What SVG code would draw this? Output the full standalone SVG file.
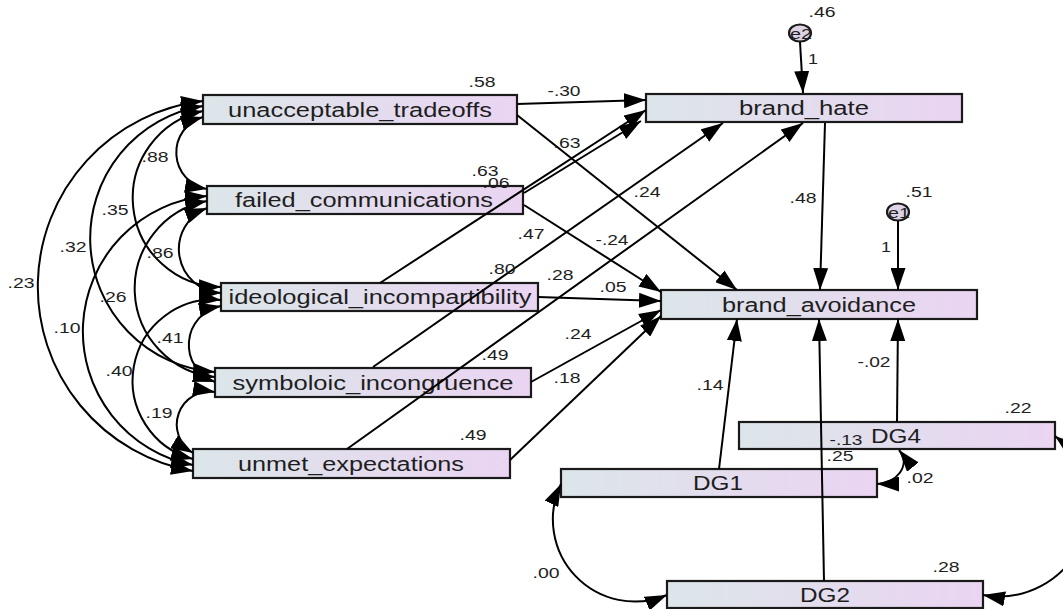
<svg xmlns="http://www.w3.org/2000/svg" width="1063" height="609" viewBox="0 0 1063 609">
  <defs>
    <linearGradient id="boxFill" x1="0" y1="0" x2="1" y2="0">
      <stop offset="0" stop-color="#dce6e9"/>
      <stop offset="1" stop-color="#ead4f2"/>
    </linearGradient>
    <marker id="ah" viewBox="0 0 22 15" refX="22" refY="7.5" markerWidth="22" markerHeight="15" markerUnits="userSpaceOnUse" orient="auto-start-reverse">
      <path d="M0,0 L22,7.5 L0,15 z" fill="#000"/>
    </marker>
    <style>
      .node rect { fill: url(#boxFill); stroke: #1a1a1a; stroke-width: 2.2; }
      .node ellipse { fill: #ddd3e4; stroke: #1a1a1a; stroke-width: 2.2; }
      .name { font-family: "Liberation Sans", Arial, sans-serif; font-size: 19.5px; fill: #1e1e1e; text-anchor: middle; }
      .err { font-family: "Liberation Sans", Arial, sans-serif; font-size: 15px; fill: #1e1e1e; text-anchor: middle; }
      .num { font-family: "Liberation Sans", Arial, sans-serif; font-size: 15.5px; fill: #1e1e1e; text-anchor: middle; }
      .path { fill: none; stroke: #000; stroke-width: 2; marker-end: url(#ah); }
      .cov { fill: none; stroke: #000; stroke-width: 2; marker-start: url(#ah); marker-end: url(#ah); }
    </style>
  </defs>

  <rect width="1063" height="609" fill="#fff"/>

  <!-- observed variables -->
  <g id="unacceptable_tradeoffs" class="node">
    <rect x="203" y="95" width="314" height="29"/>
    <text class="name" x="360" y="116.5" textLength="264" lengthAdjust="spacingAndGlyphs">unacceptable_tradeoffs</text>
  </g>
  <g id="failed_communications" class="node">
    <rect x="207" y="186" width="316" height="28"/>
    <text class="name" x="364" y="207" textLength="258" lengthAdjust="spacingAndGlyphs">failed_communications</text>
  </g>
  <g id="ideological_incompartibility" class="node">
    <rect x="221" y="283" width="317" height="28"/>
    <text class="name" x="380" y="304" textLength="303" lengthAdjust="spacingAndGlyphs">ideological_incompartibility</text>
  </g>
  <g id="symboloic_incongruence" class="node">
    <rect x="215" y="368" width="316" height="29"/>
    <text class="name" x="373" y="389.5" textLength="281" lengthAdjust="spacingAndGlyphs">symboloic_incongruence</text>
  </g>
  <g id="unmet_expectations" class="node">
    <rect x="193" y="449" width="317" height="29"/>
    <text class="name" x="351" y="470.5" textLength="226" lengthAdjust="spacingAndGlyphs">unmet_expectations</text>
  </g>
  <g id="brand_hate" class="node">
    <rect x="646" y="94" width="316" height="28"/>
    <text class="name" x="804" y="115" textLength="130" lengthAdjust="spacingAndGlyphs">brand_hate</text>
  </g>
  <g id="brand_avoidance" class="node">
    <rect x="661" y="290" width="316" height="29"/>
    <text class="name" x="819" y="311.5" textLength="194" lengthAdjust="spacingAndGlyphs">brand_avoidance</text>
  </g>
  <g id="DG4" class="node">
    <rect x="739" y="422" width="316" height="27"/>
    <text class="name" x="896" y="442.5" textLength="50" lengthAdjust="spacingAndGlyphs">DG4</text>
  </g>
  <g id="DG1" class="node">
    <rect x="561" y="469" width="316" height="28"/>
    <text class="name" x="718" y="490" textLength="50" lengthAdjust="spacingAndGlyphs">DG1</text>
  </g>
  <g id="DG2" class="node">
    <rect x="667" y="581" width="316" height="27"/>
    <text class="name" x="825" y="601.5" textLength="50" lengthAdjust="spacingAndGlyphs">DG2</text>
  </g>

  <!-- error terms -->
  <g id="e2" class="node">
    <ellipse cx="800" cy="33" rx="11" ry="8.5"/>
    <text class="err" x="801" y="38.5" textLength="22" lengthAdjust="spacingAndGlyphs">e2</text>
  </g>
  <g id="e1" class="node">
    <ellipse cx="898" cy="212" rx="11" ry="8.5"/>
    <text class="err" x="899" y="217.5" textLength="22" lengthAdjust="spacingAndGlyphs">e1</text>
  </g>

  <!-- regression paths and covariances -->
  <g id="connectors">
    <path class="path" d="M517,104 L646,100"/>
    <path class="path" d="M524,193 L641,121"/>
    <path class="path" d="M380,283 L646,110"/>
    <path class="path" d="M373,367 L723,123"/>
    <path class="path" d="M347,449 L803,123"/>
    <path class="path" d="M800,42 L803,93"/>
    <path class="path" d="M517,115 L737,290"/>
    <path class="path" d="M524,205 L661,292"/>
    <path class="path" d="M538,297 L661,301"/>
    <path class="path" d="M531,382 L661,310"/>
    <path class="path" d="M510,460 L661,316"/>
    <path class="path" d="M825,123 L820,290"/>
    <path class="path" d="M898,221 L898,290"/>
    <path class="path" d="M719,469 L737,319"/>
    <path class="path" d="M824,581 L819,319"/>
    <path class="path" d="M897,422 L898,319"/>

    <path class="cov" d="M203,117 A37,37 0 0 0 207,189"/>
    <path class="cov" d="M203,111 A89,89 0 0 0 221,287"/>
    <path class="cov" d="M203,106 A134,134 0 0 0 215,372"/>
    <path class="cov" d="M203,101 A187,187 0 0 0 193,471"/>
    <path class="cov" d="M207,208 A44,44 0 0 0 221,293"/>
    <path class="cov" d="M207,201 A89,89 0 0 0 215,377"/>
    <path class="cov" d="M207,196 A136,136 0 0 0 193,465"/>
    <path class="cov" d="M221,306 A39.5,39.5 0 0 0 215,382"/>
    <path class="cov" d="M221,300 A81,81 0 0 0 193,459"/>
    <path class="cov" d="M215,392 A33,33 0 0 0 193,453"/>

    <path class="cov" d="M561,484 A82,82 0 0 0 667,595"/>
    <path class="cov" d="M1055,436 A90,90 0 0 1 983,595"/>
    <path class="cov" d="M877,484 C895,484 912,466 899,450"/>
  </g>

  <!-- estimates -->
  <g id="estimates">
    <text class="num" x="822" y="17" textLength="27" lengthAdjust="spacingAndGlyphs">.46</text>
    <text class="num" x="813" y="64" textLength="10" lengthAdjust="spacingAndGlyphs">1</text>
    <text class="num" x="482" y="87" textLength="27" lengthAdjust="spacingAndGlyphs">.58</text>
    <text class="num" x="564" y="96" textLength="33" lengthAdjust="spacingAndGlyphs">-.30</text>
    <text class="num" x="567" y="148" textLength="27" lengthAdjust="spacingAndGlyphs">.63</text>
    <text class="num" x="485" y="176" textLength="27" lengthAdjust="spacingAndGlyphs">.63</text>
    <text class="num" x="496" y="188" textLength="27" lengthAdjust="spacingAndGlyphs">.06</text>
    <text class="num" x="647" y="197" textLength="27" lengthAdjust="spacingAndGlyphs">.24</text>
    <text class="num" x="531" y="239" textLength="27" lengthAdjust="spacingAndGlyphs">.47</text>
    <text class="num" x="612" y="245" textLength="33" lengthAdjust="spacingAndGlyphs">-.24</text>
    <text class="num" x="502" y="274" textLength="27" lengthAdjust="spacingAndGlyphs">.80</text>
    <text class="num" x="560" y="280" textLength="27" lengthAdjust="spacingAndGlyphs">.28</text>
    <text class="num" x="613" y="292" textLength="27" lengthAdjust="spacingAndGlyphs">.05</text>
    <text class="num" x="578" y="339" textLength="27" lengthAdjust="spacingAndGlyphs">.24</text>
    <text class="num" x="495" y="360" textLength="27" lengthAdjust="spacingAndGlyphs">.49</text>
    <text class="num" x="567" y="383" textLength="27" lengthAdjust="spacingAndGlyphs">.18</text>
    <text class="num" x="473" y="440" textLength="27" lengthAdjust="spacingAndGlyphs">.49</text>
    <text class="num" x="803" y="203" textLength="27" lengthAdjust="spacingAndGlyphs">.48</text>
    <text class="num" x="919" y="197" textLength="27" lengthAdjust="spacingAndGlyphs">.51</text>
    <text class="num" x="886" y="252" textLength="10" lengthAdjust="spacingAndGlyphs">1</text>
    <text class="num" x="710" y="390" textLength="27" lengthAdjust="spacingAndGlyphs">.14</text>
    <text class="num" x="874" y="367" textLength="33" lengthAdjust="spacingAndGlyphs">-.02</text>
    <text class="num" x="1018" y="413" textLength="27" lengthAdjust="spacingAndGlyphs">.22</text>
    <text class="num" x="846" y="445" textLength="33" lengthAdjust="spacingAndGlyphs">-.13</text>
    <text class="num" x="840" y="461" textLength="27" lengthAdjust="spacingAndGlyphs">.25</text>
    <text class="num" x="920" y="483" textLength="27" lengthAdjust="spacingAndGlyphs">.02</text>
    <text class="num" x="546" y="578" textLength="27" lengthAdjust="spacingAndGlyphs">.00</text>
    <text class="num" x="946" y="572" textLength="27" lengthAdjust="spacingAndGlyphs">.28</text>
    <text class="num" x="155" y="162" textLength="27" lengthAdjust="spacingAndGlyphs">.88</text>
    <text class="num" x="115" y="215" textLength="27" lengthAdjust="spacingAndGlyphs">.35</text>
    <text class="num" x="73" y="252" textLength="27" lengthAdjust="spacingAndGlyphs">.32</text>
    <text class="num" x="160" y="258" textLength="27" lengthAdjust="spacingAndGlyphs">.86</text>
    <text class="num" x="21" y="288" textLength="27" lengthAdjust="spacingAndGlyphs">.23</text>
    <text class="num" x="113" y="302" textLength="27" lengthAdjust="spacingAndGlyphs">.26</text>
    <text class="num" x="67" y="333" textLength="27" lengthAdjust="spacingAndGlyphs">.10</text>
    <text class="num" x="170" y="343" textLength="27" lengthAdjust="spacingAndGlyphs">.41</text>
    <text class="num" x="119" y="376" textLength="27" lengthAdjust="spacingAndGlyphs">.40</text>
    <text class="num" x="159" y="418" textLength="27" lengthAdjust="spacingAndGlyphs">.19</text>
  </g>
</svg>
